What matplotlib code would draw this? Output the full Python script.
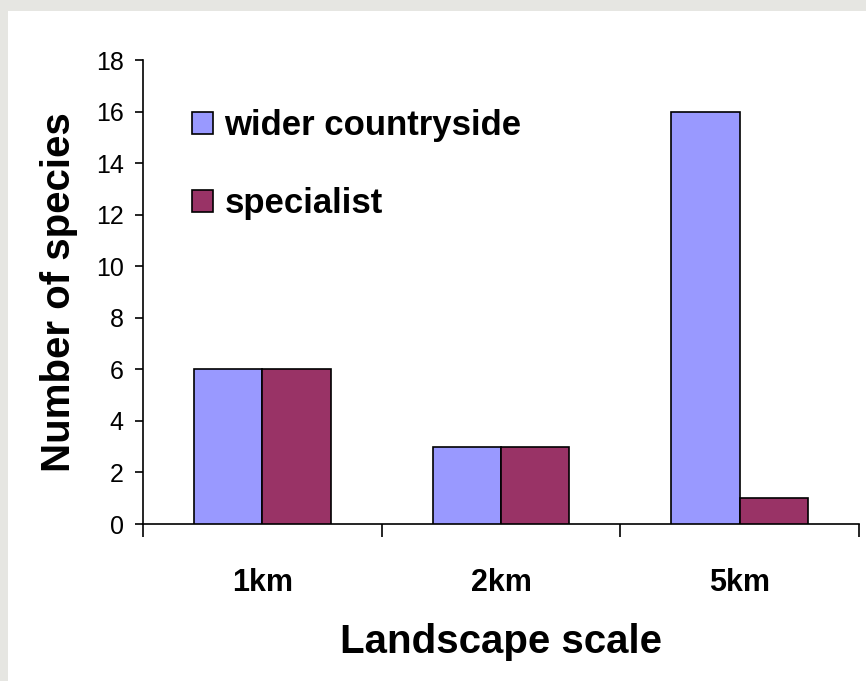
import matplotlib
matplotlib.use("Agg")
import matplotlib.pyplot as plt
from matplotlib.patches import Patch, Rectangle
import numpy as np

# Species counts per landscape scale
scales = ["1km", "2km", "5km"]
wider_countryside = [6, 3, 16]
specialist = [6, 3, 1]
series_names = ["wider countryside", "specialist"]
y_ticks = [0, 2, 4, 6, 8, 10, 12, 14, 16, 18]

plt.rcParams["font.family"] = ["Liberation Sans", "DejaVu Sans"]

W, H = 866, 681
fig = plt.figure(figsize=(W / 100, H / 100), dpi=100, facecolor="#e6e6e2")

# white slide panel behind the chart
fig.patches.append(Rectangle((8 / W, 0), 1, 1 - 11 / H, transform=fig.transFigure,
                             facecolor="white", edgecolor="none", zorder=-10))

ax = fig.add_axes([143 / W, 1 - 524 / H, (859 - 143) / W, (524 - 60) / H])
ax.set_zorder(1)
ax.set_facecolor("none")

blue = "#9999FF"
plum = "#993366"
bw = 2 / 7
centers = np.arange(len(scales)) + 0.5
ax.bar(centers - bw / 2, wider_countryside, width=bw, color=blue,
       edgecolor="black", linewidth=1.2, zorder=3)
ax.bar(centers + bw / 2, specialist, width=bw, color=plum,
       edgecolor="black", linewidth=1.2, zorder=3)

ax.set_xlim(0, len(scales))
ax.set_ylim(0, 18)
ax.set_yticks(y_ticks)
ax.set_yticklabels([str(v) for v in y_ticks], fontsize=18)
ax.tick_params(axis="y", direction="out", length=6, width=1.2, pad=8, colors="black")

# category boundaries as major ticks, names on minor ticks
ax.set_xticks(np.arange(len(scales) + 1))
ax.set_xticklabels([])
ax.tick_params(axis="x", which="major", direction="out", length=9, width=1.2)
ax.set_xticks(centers, minor=True)
ax.set_xticklabels(scales, minor=True, fontsize=22, fontweight="bold")
ax.tick_params(axis="x", which="minor", length=0, pad=32)

for side in ("top", "right"):
    ax.spines[side].set_visible(False)
for side in ("left", "bottom"):
    ax.spines[side].set_linewidth(1.2)
    ax.spines[side].set_color("black")

ax.set_xlabel("Landscape scale", fontsize=29, fontweight="bold", labelpad=18)
ax.set_ylabel("Number of species", fontsize=29, fontweight="bold", labelpad=13)

handles = [Patch(facecolor=blue, edgecolor="black", linewidth=1.2),
           Patch(facecolor=plum, edgecolor="black", linewidth=1.2)]
leg = ax.legend(handles, series_names, loc="upper left",
                bbox_to_anchor=((192 - 143) / 716, (524 - 109) / 464),
                frameon=False, borderpad=0, borderaxespad=0,
                handlelength=0.6, handleheight=0.6, handletextpad=0.33,
                labelspacing=1.3, prop={"size": 25, "weight": "bold"})

fig.savefig("out.png", dpi=100, facecolor=fig.get_facecolor())
